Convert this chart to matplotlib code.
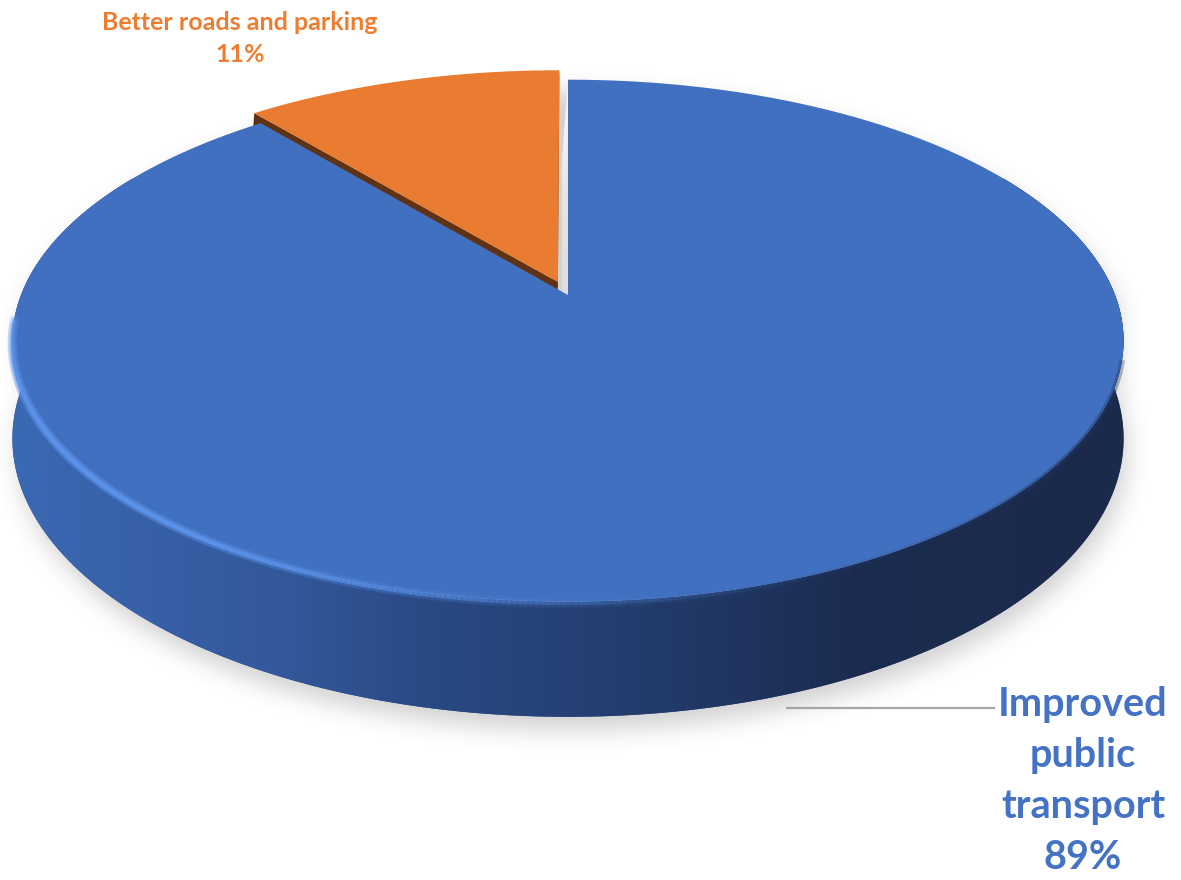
import numpy as np
import matplotlib
matplotlib.use("Agg")
import matplotlib.pyplot as plt
from matplotlib.patches import Polygon
from matplotlib.path import Path
from matplotlib.collections import LineCollection
from matplotlib.colors import to_rgb

# ---- data -------------------------------------------------------------
categories = ["Improved public transport", "Better roads and parking"]
shares = [89, 11]
label_lines = [["Improved", "public", "transport", "89%"],
               ["Better roads and parking", "11%"]]
top_colors = ["#4270C0", "#EA7C31"]
text_colors = ["#4472C4", "#ED7D31"]
face_colors = ["#E2E2E2", "#603212"]
explode = [0.0, 0.055]

# ---- canvas -----------------------------------------------------------
W, H = 1181, 880
fig = plt.figure(figsize=(W / 100, H / 100), dpi=100)
ax = fig.add_axes([0, 0, 1, 1])
ax.axis("off")

# projection of the unit disc: perspective tilt toward the viewer
CX, CY = 568, 295
A, B, K = 547, 253, 0.175
DEPTH = 95
SKEW = 6


def project(u, v, z=0.0, skew=0.0):
    s = 1 + K * v
    return CX + A * u / s - skew * z, CY - B * v / s + z * DEPTH / s


def arc(theta_deg, off=(0.0, 0.0), z=0.0):
    t = np.radians(theta_deg)
    x, y = project(off[0] + np.cos(t), off[1] + np.sin(t), z)
    return np.column_stack([x, y])


def gradient_fill(patch, xs, cols, extent, vertical=False):
    cols = np.array([to_rgb(c) for c in cols])
    n = 512
    pos = np.linspace(0, 1, n)
    rgb = np.stack([np.interp(pos, xs, cols[:, i]) for i in range(3)], -1)
    img = rgb[:, None, :] if vertical else rgb[None, :, :]
    im = ax.imshow(img, extent=extent, aspect="auto", origin="upper",
                   interpolation="bilinear", zorder=patch.get_zorder())
    im.set_clip_path(patch)


total = float(sum(shares))
frac = np.array(shares) / total
cum = np.concatenate([[0], np.cumsum(frac)])
theta1 = 90 - cum[1:] * 360
theta2 = 90 - cum[:-1] * 360
mid = (theta1 + theta2) / 2
offsets = [(e * np.cos(np.radians(m)), e * np.sin(np.radians(m)))
           for e, m in zip(explode, mid)]

# ---- soft drop shadow -------------------------------------------------
back = arc(np.linspace(0, 180, 200))
front = arc(np.linspace(180, 360, 200), z=1.0)
outline = np.vstack([back, front])
step = 2
gy, gx = np.mgrid[0:H:step, 0:W:step]
pts = np.column_stack([gx.ravel() - 4, gy.ravel() - 12])
mask = Path(outline).contains_points(pts).reshape(gy.shape).astype(float)


def blur1d(a, r, axis):
    a = np.moveaxis(a, axis, -1)
    p = np.pad(a, ((0, 0), (r + 1, r)))
    c = np.cumsum(p, axis=-1)
    out = (c[:, 2 * r + 1:] - c[:, :-2 * r - 1]) / (2 * r + 1)
    return np.moveaxis(out, -1, axis)


for _ in range(3):
    mask = blur1d(mask, 5, 0)
    mask = blur1d(mask, 5, 1)
shadow = np.zeros(mask.shape + (4,))
shadow[..., :3] = 0.45
shadow[..., 3] = mask * 0.32
ax.imshow(shadow, extent=(0, W, H, 0), origin="upper", interpolation="bilinear", zorder=1)

# ---- radial side faces -------------------------------------------------
for i in range(len(shares)):
    for edge, normal in ((theta1[i], theta1[i] - 90), (theta2[i], theta2[i] + 90)):
        if np.sin(np.radians(normal)) > 1e-6:
            continue
        t = np.radians(edge)
        ou, ov = offsets[i]
        p0 = project(ou, ov)
        p1 = project(ou + np.cos(t), ov + np.sin(t))
        p2 = project(ou + np.cos(t), ov + np.sin(t), 1.0, SKEW)
        p3 = project(ou, ov, 1.0, SKEW)
        poly = Polygon([p0, p1, p2, p3], closed=True, facecolor=face_colors[i],
                       edgecolor="none", zorder=2)
        ax.add_patch(poly)
        if i == 0:
            ys = [p[1] for p in (p0, p1, p2, p3)]
            xs_ = [p[0] for p in (p0, p1, p2, p3)]
            gradient_fill(poly, [0, 0.35, 1], ["#FFFFFF", "#E6E6E6", "#D6D6D6"],
                          (min(xs_), max(xs_), max(ys), min(ys)), vertical=True)

# ---- exploded slice top -----------------------------------------------
for i in range(1, len(shares)):
    ou, ov = offsets[i]
    pts_top = np.vstack([project(ou, ov), arc(np.linspace(theta1[i], theta2[i], 200), (ou, ov))])
    ax.add_patch(Polygon(pts_top, closed=True, facecolor=top_colors[i],
                         edgecolor="none", zorder=3))

# ---- outer wall of the main slice -----------------------------------------
wall_top = arc(np.linspace(150, 390, 300))
wall_bot = arc(np.linspace(390, 150, 300), z=1.0)
wall = Polygon(np.vstack([wall_top, wall_bot]), closed=True, facecolor="#2A4A85",
               edgecolor="none", zorder=4)
ax.add_patch(wall)
wx = np.vstack([wall_top, wall_bot])
x0, x1 = wx[:, 0].min(), wx[:, 0].max()
y0, y1 = wx[:, 1].min(), wx[:, 1].max()
stops_x = np.array([12, 290, 420, 600, 850, 1130])
stops = (stops_x - x0) / (x1 - x0)
gradient_fill(wall, np.clip(stops, 0, 1),
              ["#3B69B3", "#33579A", "#2A4A85", "#243F72", "#1C2C50", "#1B2A4B"],
              (x0, x1, y1, y0))

# ---- top of the main slice -------------------------------------------------
ou, ov = offsets[0]
main_top = np.vstack([project(ou, ov), arc(np.linspace(theta1[0], theta2[0], 600), (ou, ov))])
ax.add_patch(Polygon(main_top, closed=True, facecolor=top_colors[0],
                     edgecolor="none", zorder=5))

# bevel highlight along the front rim
ht = np.linspace(185, 300, 240)
rim = arc(ht)
rim[:, 1] += 1.5
segs = np.stack([rim[:-1], rim[1:]], axis=1)
peak = np.exp(-((ht[:-1] - 222) / 38) ** 2)
glow = np.zeros((len(segs), 4))
glow[:, :3] = to_rgb("#5C93EA")
glow[:, 3] = 0.95 * peak
ax.add_collection(LineCollection(segs, colors=glow, linewidths=3.0, zorder=6,
                                 capstyle="round"))
glow2 = glow.copy()
glow2[:, 3] = 0.25 * peak
ax.add_collection(LineCollection(segs, colors=glow2, linewidths=7.0, zorder=6,
                                 capstyle="round"))

# darker soft rim on the right front
dt = np.linspace(-75, -14, 200)
drim = arc(dt)
drim[:, 1] += 1.0
dsegs = np.stack([drim[:-1], drim[1:]], axis=1)
dk = np.zeros((len(dsegs), 4))
dk[:, :3] = to_rgb("#1E3563")
dk[:, 3] = 0.45 * np.exp(-((dt[:-1] + 30) / 28) ** 2)
ax.add_collection(LineCollection(dsegs, colors=dk, linewidths=4.0, zorder=6))

# ---- labels ------------------------------------------------------------
font = dict(family="Lato", weight="bold")
# main slice: leader line and stacked label
ax.plot([786, 995], [708, 708], color="#A6A6A6", lw=1.6, zorder=7,
        solid_capstyle="butt")
for j, line in enumerate(label_lines[0]):
    ax.text(1083, 716 + 51 * j, line, ha="center", va="baseline",
            fontsize=28.5, color=text_colors[0], zorder=8, **font)
# exploded slice label
for j, line in enumerate(label_lines[1]):
    ax.text(240, 29.5 + 32 * j, line, ha="center", va="baseline",
            fontsize=18, color=text_colors[1], zorder=8, **font)

ax.set_xlim(0, W)
ax.set_ylim(H, 0)
fig.savefig("out.png", dpi=100)
